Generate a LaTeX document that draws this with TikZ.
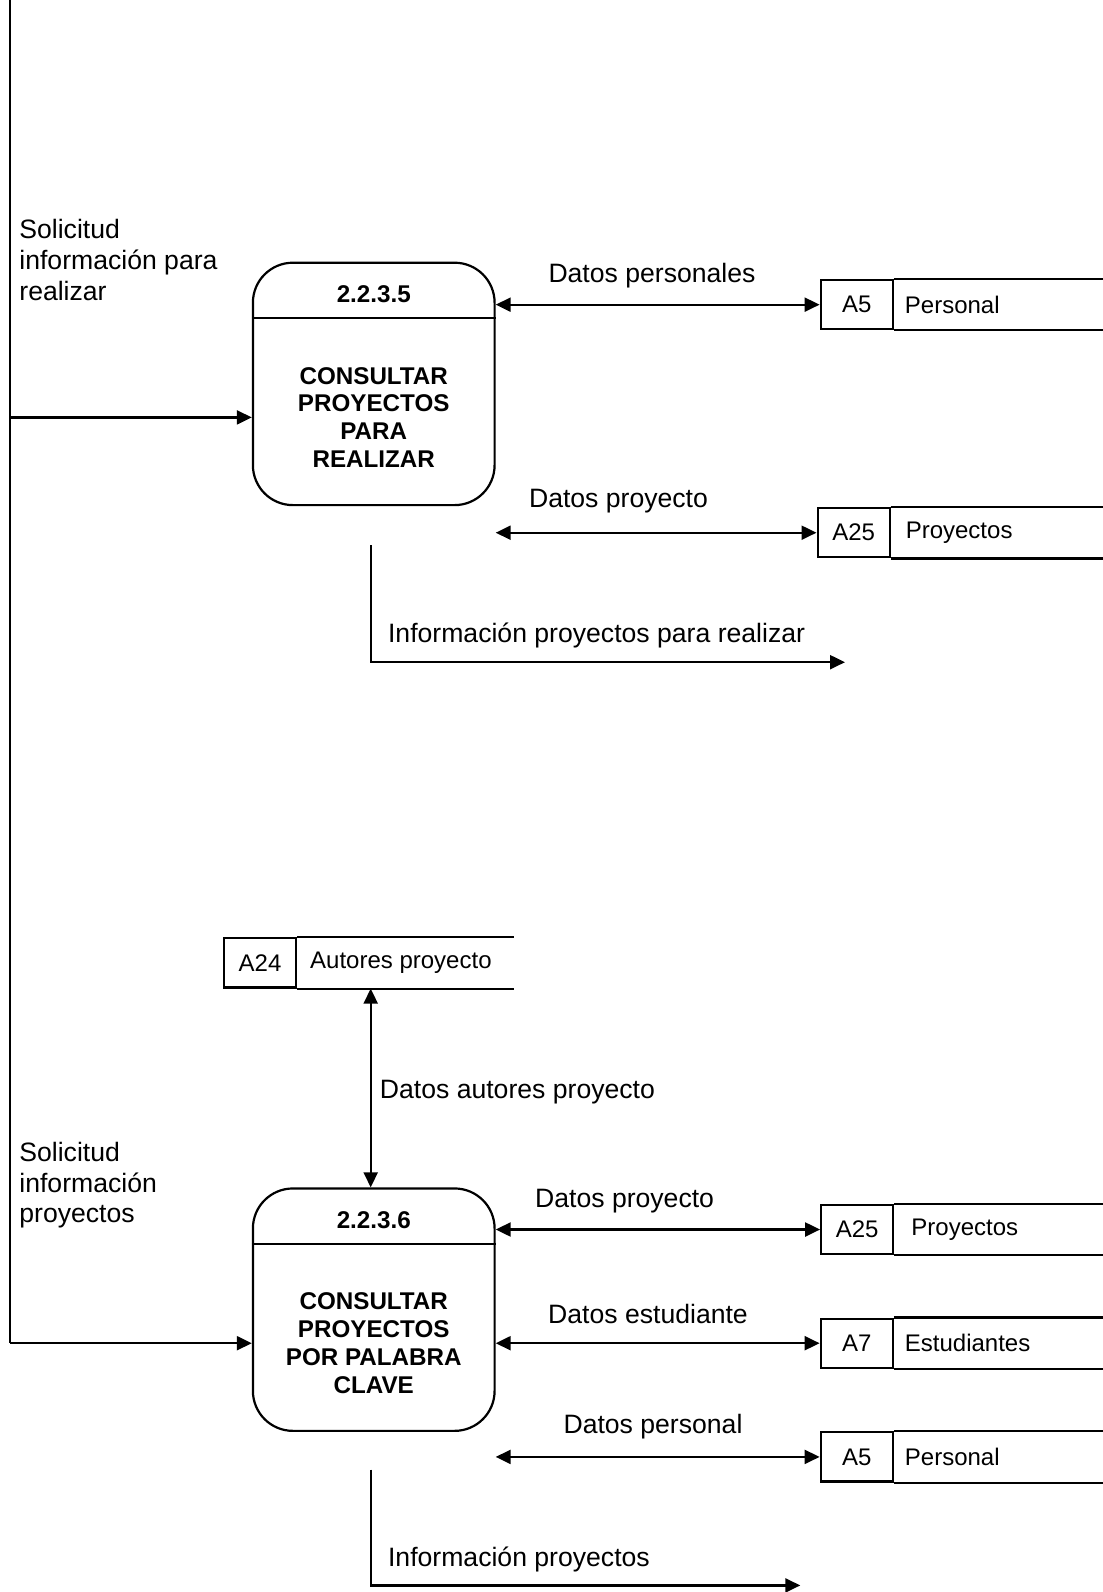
\documentclass[tikz,border=0pt]{standalone}
\usepackage{fontspec}
\setmainfont{Liberation Sans}
\usetikzlibrary{arrows.meta,positioning}
\newcommand\flowfont{\fontsize{13.3}{15.4}\selectfont}
\newcommand\storefont{\fontsize{12}{14}\selectfont}
\begin{document}
\begin{tikzpicture}[x=0.5pt,y=-0.5pt,line width=1.1pt,
  flow/.style={-{Triangle[length=7.5pt,width=7pt]}},
  both/.style={{Triangle[length=7.5pt,width=7pt]}-{Triangle[length=7.5pt,width=7pt]}},
  proc/.style={draw, rounded corners=20pt, minimum width=120.85pt, minimum height=121.2pt, inner sep=0},
  ptext/.style={font=\fontsize{12.1}{13.9}\selectfont\bfseries, align=center, inner sep=0},
  storeid/.style={draw, minimum width=36pt, minimum height=24.6pt, inner sep=0, font=\storefont},
  storename/.style={anchor=west, inner sep=0, font=\storefont},
  lbl/.style={font=\flowfont, inner sep=0, align=left}]
\useasboundingbox (0,0) rectangle (1103,1592);
\coordinate (rim) at (1103,0);
\coordinate (rim24) at (514,0);
\coordinate (bus) at (10.2,0);

\node[proc] (p1) at (373.75,383.9) {};
\node[ptext] (p1t) at (373.75,294.5) {2.2.3.5};
\node[ptext] (p1b) at (373.75,417.4) {CONSULTAR\\PROYECTOS\\PARA\\REALIZAR};
\coordinate (d1) at (373.75,318);
\draw (p1.west |- d1) -- (p1.east |- d1);

\node[proc] (p2) at (373.75,1309.65) {};
\node[ptext] (p2t) at (373.75,1219.8) {2.2.3.6};
\node[ptext] (p2b) at (373.75,1343.2) {CONSULTAR\\PROYECTOS\\POR PALABRA\\CLAVE};
\coordinate (d2) at (373.75,1244.2);
\draw (p2.west |- d2) -- (p2.east |- d2);

\node[storeid] (s1) at (856.7,304.65) {A5};
\node[storename, right=5pt of s1] (s1n) {Personal};
\node[storeid] (s2) at (853.6,532.7) {A25};
\node[storename, right=7pt of s2] (s2n) {Proyectos};
\node[storeid] (s3) at (260,962.9) {A24};
\node[storename, right=6pt of s3] (s3n) {Autores proyecto};
\node[storeid] (s4) at (857.2,1229.5) {A25};
\node[storename, right=8pt of s4] (s4n) {Proyectos};
\node[storeid] (s5) at (856.7,1343.2) {A7};
\node[storename, right=5pt of s5] (s5n) {Estudiantes};
\node[storeid] (s6) at (856.7,1456.9) {A5};
\node[storename, right=5pt of s6] (s6n) {Personal};
\foreach \s in {s1,s2,s4,s5,s6}
  \draw (\s.north east) -- (\s.north east -| rim) (\s.south east) -- (\s.south east -| rim);
\draw (s3.north east) -- (s3.north east -| rim24) (s3.south east) -- (s3.south east -| rim24);

\node[lbl, anchor=west] (in1) at (18.3,260) {Solicitud\\información para\\realizar};
\node[lbl, anchor=west] (in2) at (18.3,1185.3) {Solicitud\\información\\proyectos};
\draw (bus) -- (bus |- p2b);
\draw[flow] (bus |- p1b) -- (p1.west |- p1b);
\draw[flow] (bus |- p2b) -- (p2.west |- p2b);

\draw[both] (p1.east |- s1) -- (s1.west);
\node[lbl] (f1) at (652,275.2) {Datos personales};
\draw[both] (p1.east |- s2) -- (s2.west);
\node[lbl] (f2) at (618.5,500.7) {Datos proyecto};

\coordinate (o1) at (370.7,545.4);
\coordinate (o1e) at (845,662.2);
\draw[flow] (o1) |- (o1e);
\node[lbl, anchor=west] (f3) at (387,635.8) {Información proyectos para realizar};

\coordinate (o2) at (370.7,1469.6);
\coordinate (o2e) at (800.3,1585.4);
\draw[both] (o2 |- p2.north) -- (o2 |- s3.south);
\node[lbl, anchor=west] (f4) at (378.8,1091.8) {Datos autores proyecto};

\draw[both] (p2.east |- s4) -- (s4.west);
\node[lbl] (f5) at (624.6,1201.5) {Datos proyecto};
\draw[both] (p2.east |- s5) -- (s5.west);
\node[lbl] (f6) at (648,1314.2) {Datos estudiante};
\draw[both] (p2.east |- s6) -- (s6.west);
\node[lbl] (f7) at (653,1427) {Datos personal};

\draw[flow] (o2) |- (o2e);
\node[lbl, anchor=west] (f8) at (387,1559) {Información proyectos};
\end{tikzpicture}
\end{document}
